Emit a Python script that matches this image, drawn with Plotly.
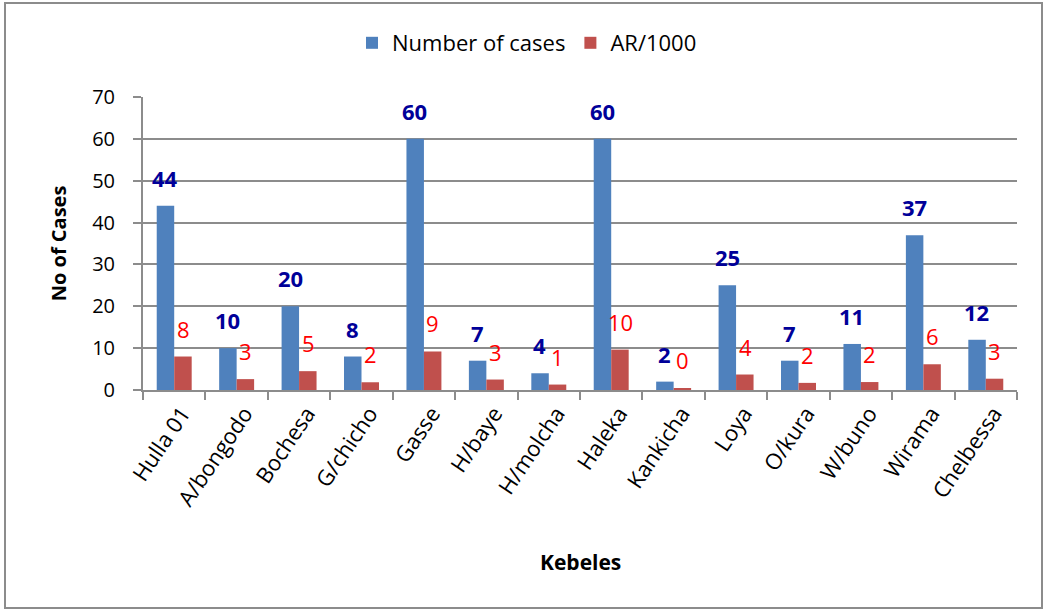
import plotly.graph_objects as go

kebeles = ["Hulla 01", "A/bongodo", "Bochesa", "G/chicho", "Gasse", "H/baye", "H/molcha",
           "Haleka", "Kankicha", "Loya", "O/kura", "W/buno", "Wirama", "Chelbessa"]
cases = [44, 10, 20, 8, 60, 7, 4, 60, 2, 25, 7, 11, 37, 12]
ar_per_1000 = [8.0, 2.6, 4.5, 1.85, 9.2, 2.5, 1.3, 9.65, 0.4, 3.7, 1.7, 1.9, 6.15, 2.7]
ar_labels = ["8", "3", "5", "2", "9", "3", "1", "10", "0", "4", "2", "2", "6", "3"]
y_ticks = [0, 10, 20, 30, 40, 50, 60, 70]

FONT = "Open Sans"
W, H = 1043, 610
L, R, T, B = 143, 26, 97, 220
pw, ph = W - L - R, H - T - B

fig = go.Figure()
fig.add_trace(go.Bar(name="Number of cases", x=kebeles, y=cases,
                     marker=dict(color="#4F81BD", line=dict(width=0))))
fig.add_trace(go.Bar(name="AR/1000", x=kebeles, y=ar_per_1000,
                     marker=dict(color="#C0504D", line=dict(width=0))))

ann = []
for k, c in zip(kebeles, cases):
    ann.append(dict(x=k, y=c, xref="x", yref="y", text=f"<b>{c}</b>", showarrow=False,
                    xshift=-9, yshift=28, yanchor="middle",
                    font=dict(family=FONT, size=22, color="#000099")))
for k, v, t in zip(kebeles, ar_per_1000, ar_labels):
    ann.append(dict(x=k, y=v, xref="x", yref="y", text=t, showarrow=False,
                    xshift=9, yshift=28, yanchor="middle",
                    font=dict(family=FONT, size=22, color="#FF0000")))
ann.append(dict(x=0.5, y=(H - B - 562) / ph, xref="paper", yref="paper",
                text="<b>Kebeles</b>", showarrow=False, yanchor="middle",
                font=dict(family=FONT, size=21, color="black")))

fig.update_layout(
    width=W, height=H,
    margin=dict(l=L, r=R, t=T, b=B),
    paper_bgcolor="white", plot_bgcolor="white",
    barmode="group", bargap=0.44, bargroupgap=0,
    font=dict(family=FONT, size=21, color="black"),
    legend=dict(orientation="h", x=(527 - L) / pw, xanchor="center", y=(H - B - 43) / ph,
                yanchor="middle", font=dict(family=FONT, size=22), itemwidth=30,
                traceorder="normal"),
    annotations=ann,
    shapes=[dict(type="rect", xref="paper", yref="paper",
                 x0=(5 - L) / pw, x1=(1042 - L) / pw,
                 y0=(H - B - 608) / ph, y1=(H - B - 3) / ph,
                 line=dict(color="#8c8c8c", width=2), layer="below")],
)
fig.update_xaxes(type="category", tickangle=-56, showline=True, linecolor="#8c8c8c",
                 linewidth=2, ticks="outside", tickson="boundaries", ticklen=8,
                 tickcolor="#8c8c8c", tickwidth=2, tickfont=dict(family=FONT, size=22),
                 ticklabelshift=8, showgrid=False)
fig.update_yaxes(range=[0, 70], tickvals=y_ticks, showline=True, linecolor="#8c8c8c",
                 linewidth=2, ticks="outside", ticklen=8, tickcolor="#8c8c8c", tickwidth=2,
                 showgrid=True, gridcolor="#8c8c8c", gridwidth=1.5, zeroline=False,
                 tickfont=dict(family=FONT, size=20), ticklabelstandoff=14,
                 title=dict(text="<b>No of Cases</b>", font=dict(family=FONT, size=20),
                            standoff=20))

fig.write_html("out.html", config={"displayModeBar": False},
               post_script="document.body.style.margin='0';document.body.style.padding='0';")
